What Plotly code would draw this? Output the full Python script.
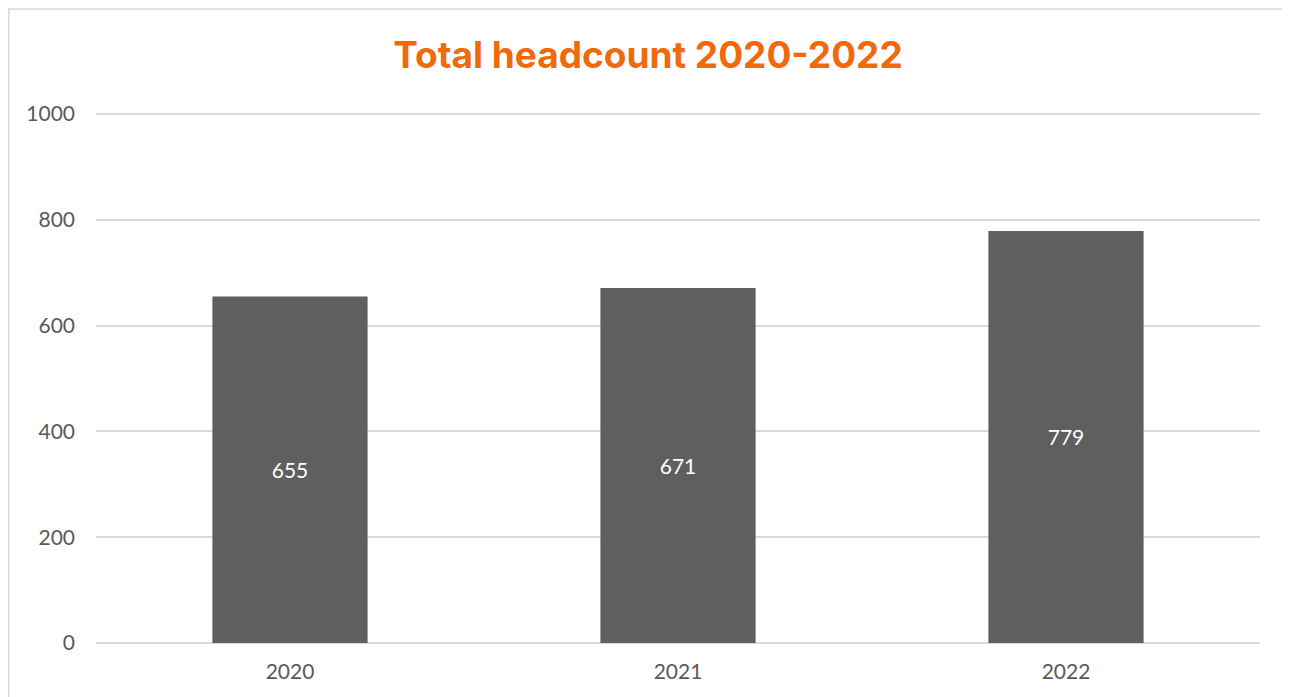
import plotly.graph_objects as go

years = ["2020", "2021", "2022"]
headcount = [655, 671, 779]
y_ticks = [0, 200, 400, 600, 800, 1000]

W, H = 1290, 697
L, R, T, B = 88, 38, 105, 62
PW, PH = W - L - R, H - T - B

fig = go.Figure()
fig.add_trace(go.Bar(
    x=years, y=headcount,
    marker=dict(color="#5f5f5f", line=dict(width=0)),
    width=0.4,
    text=[str(v) for v in headcount],
    textposition="inside", insidetextanchor="middle",
    textfont=dict(color="white", size=21, family="Lato, Open Sans, sans-serif"),
    hoverinfo="skip",
))

fig.update_layout(
    width=W, height=H,
    margin=dict(l=L, r=R, t=T, b=B),
    paper_bgcolor="white", plot_bgcolor="white",
    showlegend=False,
    title=dict(text="<b>Total headcount 2020-2022</b>", x=640 / W, xanchor="center",
               y=1 - 47 / H, yanchor="middle",
               font=dict(family="Inter, Noto Sans, sans-serif", size=37, color="#ef6a0c")),
    xaxis=dict(showgrid=False, showline=False, ticks="", zeroline=False,
               ticklabelstandoff=14,
               tickfont=dict(family="Lato, Open Sans, sans-serif", size=21, color="#595959")),
    yaxis=dict(range=[0, 1002], tickvals=y_ticks, showgrid=True, gridcolor="#d9d9d9",
               gridwidth=1.5, zeroline=True, zerolinecolor="#d9d9d9", zerolinewidth=1.5,
               showline=False, ticks="", ticklabelstandoff=20,
               tickfont=dict(family="Lato, Open Sans, sans-serif", size=21, color="#595959")),
    shapes=[dict(type="rect", xref="paper", yref="paper",
                 x0=(0.75 - L) / PW, x1=(1288 - L) / PW, y0=-0.3, y1=(PH + T - 1) / PH,
                 line=dict(color="#d9d9d9", width=1.5), fillcolor="rgba(0,0,0,0)", layer="below")],
)

fig.write_html("out.html")
